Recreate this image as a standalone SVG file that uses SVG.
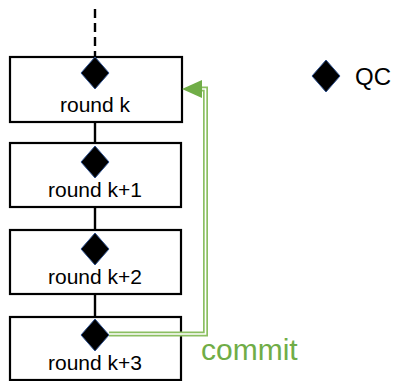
<svg xmlns="http://www.w3.org/2000/svg" width="394" height="381" viewBox="0 0 394 381">
<style>
.box{fill:#fff;stroke:#000;stroke-width:2.2}
.qc{fill:#000;stroke:#2F528F;stroke-width:1}
.lbl{font-family:"Liberation Sans",Arial,sans-serif;font-size:21px;fill:#000;text-anchor:middle}
.link{stroke:#000;stroke-width:2.4;fill:none}
</style>
<defs>
<polygon id="dia" points="0,-16 14,0 0,16 -14,0"/>
</defs>
<g id="connectors">
<line class="link" x1="95" y1="9" x2="95" y2="57" stroke-dasharray="9,5"/>
<line class="link" x1="95" y1="122" x2="95" y2="143"/>
<line class="link" x1="95" y1="207" x2="95" y2="230"/>
<line class="link" x1="95" y1="294" x2="95" y2="317"/>
</g>
<g id="round-k">
<rect class="box" x="10" y="57" width="172" height="65"/>
<use href="#dia" class="qc" x="95" y="73"/>
<text class="lbl" x="95" y="112">round k</text>
</g>
<g id="round-k1">
<rect class="box" x="10" y="143" width="171" height="64"/>
<use href="#dia" class="qc" x="95" y="162"/>
<text class="lbl" x="95" y="197">round k+1</text>
</g>
<g id="round-k2">
<rect class="box" x="10" y="230" width="171" height="64"/>
<use href="#dia" class="qc" x="95" y="249"/>
<text class="lbl" x="95" y="284">round k+2</text>
</g>
<g id="round-k3">
<rect class="box" x="10" y="317" width="171" height="63"/>
<use href="#dia" class="qc" x="95" y="335"/>
<text class="lbl" x="95" y="370">round k+3</text>
</g>
<g id="commit">
<polyline points="109,334 205.5,334 205.5,89 199,89" fill="none" stroke="#8CBF62" stroke-width="5"/>
<polyline points="109,334 205.5,334 205.5,89 199,89" fill="none" stroke="#fff" stroke-width="1.6"/>
<polygon points="182,89 202,80 202,98" fill="#70AD47"/>
<text x="201" y="360" font-family="Liberation Sans,Arial,sans-serif" font-size="30" fill="#70AD47">commit</text>
</g>
<g id="legend">
<use href="#dia" class="qc" x="326" y="76"/>
<text x="355" y="85" font-family="Liberation Sans,Arial,sans-serif" font-size="24" fill="#000">QC</text>
</g>
</svg>
